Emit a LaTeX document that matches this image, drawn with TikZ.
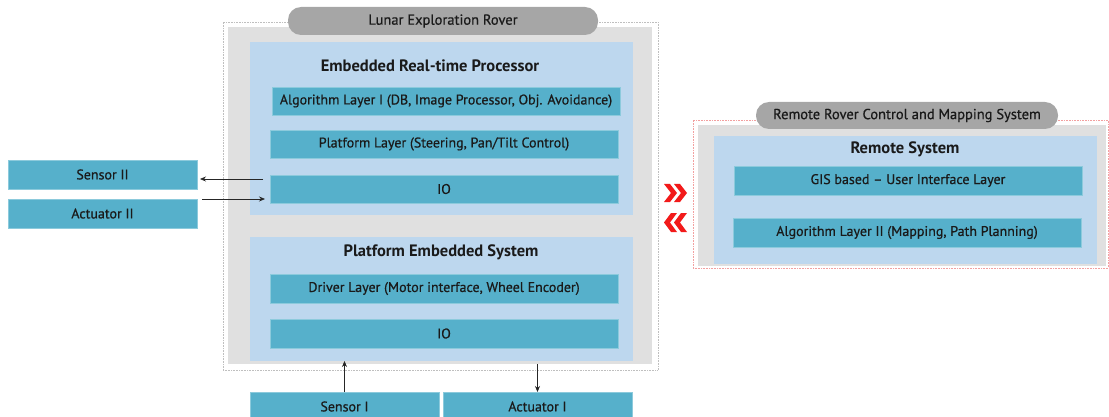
\documentclass[tikz,border=0pt]{standalone}
\usepackage{fontspec}
\setmainfont{PT Sans}
\newfontfamily\medfont{PT Sans}[FakeBold=0.6]
\usetikzlibrary{arrows.meta}
\definecolor{outergray}{HTML}{E0E0E0}
\definecolor{pillgray}{HTML}{A6A6A6}
\definecolor{lightblue}{HTML}{BDD7EE}
\definecolor{teal}{HTML}{56B0CB}
\definecolor{tealedge}{HTML}{8CCADC}
\definecolor{dotgray}{HTML}{BFBFBF}
\definecolor{dotred}{HTML}{F2A0A0}
\definecolor{chevred}{HTML}{F21A1A}
\definecolor{txt}{HTML}{1A1A1A}
\tikzset{
  box/.style={rectangle, inner sep=0pt, outer sep=0pt},
  layer/.style={box, fill=teal, draw=tealedge, line width=0.6pt, text=txt, font=\medfont\fontsize{14}{16}\selectfont},
  panel/.style={box, fill=lightblue},
  graybg/.style={box, fill=outergray},
  dotbox/.style={box, draw, densely dotted, line width=0.6pt},
  pill/.style={box, fill=pillgray, rounded corners=13pt, text=txt, font=\medfont\fontsize{14.5}{16}\selectfont},
  title/.style={text=txt, font=\bfseries\fontsize{16.5}{18}\selectfont},
  arr/.style={-{Stealth[length=6pt,width=5pt]}, line width=0.7pt, draw=black!85},
  chev/.style={fill=chevred}
}
\begin{document}
\begin{tikzpicture}[x=1pt,y=-1pt]
\useasboundingbox (0,0) rectangle (1109,417);
% Lunar Exploration Rover
\node[dotbox, draw=dotgray, minimum width=435pt, minimum height=348pt] (lunarframe) at (440.5,196) {};
\node[graybg, minimum width=424pt, minimum height=337pt] (lunarbg) at (440,195.5) {};
\node[pill, minimum width=310pt, minimum height=28pt] (lunarpill) at (443,21) {Lunar Exploration Rover};
% Embedded real-time processor
\node[panel, minimum width=383pt, minimum height=173pt] (erp) at (441.5,128.5) {};
\node[title] (erptitle) at (430,66) {Embedded Real-time Processor};
\node[layer, minimum width=348pt, minimum height=28pt] (alg1) at (446,101) {Algorithm Layer I (DB, Image Processor, Obj. Avoidance)};
\node[layer, minimum width=348pt, minimum height=28pt] (plat) at (444,144) {Platform Layer (Steering, Pan/Tilt Control)};
\node[layer, minimum width=348pt, minimum height=28pt] (io1) at (444,189) {IO};
% Platform embedded system
\node[panel, minimum width=383pt, minimum height=124pt] (pes) at (441.5,299) {};
\node[title] (pestitle) at (441,252) {Platform Embedded System};
\node[layer, minimum width=348pt, minimum height=29pt] (drv) at (444,288.5) {Driver Layer (Motor interface, Wheel Encoder)};
\node[layer, minimum width=348pt, minimum height=29pt] (io2) at (444,333.5) {IO};
% Sensors / actuators
\node[layer, minimum width=189pt, minimum height=29pt] (sens1) at (344.5,406.5) {Sensor I};
\node[layer, minimum width=189pt, minimum height=29pt] (act1) at (537.5,406.5) {Actuator I};
\node[layer, minimum width=189pt, minimum height=29pt] (sens2) at (102.5,174.5) {Sensor II};
\node[layer, minimum width=189pt, minimum height=29pt] (act2) at (102.5,213.5) {Actuator II};
% Remote
\node[dotbox, draw=dotred, minimum width=415pt, minimum height=148pt] (remframe) at (900.5,194) {};
\node[graybg, minimum width=408pt, minimum height=141pt] (rembg) at (902,195.5) {};
\node[pill, minimum width=302pt, minimum height=27pt] (rempill) at (907,115.5) {Remote Rover Control and Mapping System};
\node[panel, minimum width=383pt, minimum height=128pt] (rs) at (905.5,200) {};
\node[title] (rstitle) at (905,149) {Remote System};
\node[layer, minimum width=348pt, minimum height=29pt] (gis) at (908,180.5) {GIS based – User Interface Layer};
\node[layer, minimum width=348pt, minimum height=29pt] (alg2) at (907,232.5) {Algorithm Layer II (Mapping, Path Planning)};
% arrows
\draw[arr] ([shift={(-7,-10)}]io1.west) -- ([shift={(3,4.5)}]sens2.east);
\draw[arr] ([shift={(5,-14.5)}]act2.east) -- ([shift={(-5,10)}]io1.west);
\draw[arr] (sens1.north) -- (sens1.north |- pes.south);
\draw[arr] (act1.north |- lunarbg.south) -- (act1.north);
% chevrons
\foreach \x in {664,674}
  \fill[chev] (\x,184) -- ++(6,0) -- ++(7,9) -- ++(-7,9) -- ++(-6,0) -- ++(7,-9) -- cycle;
\foreach \x in {687,677}
  \fill[chev] (\x,213) -- ++(-6,0) -- ++(-7,9.5) -- ++(7,9.5) -- ++(6,0) -- ++(-7,-9.5) -- cycle;
\end{tikzpicture}
\end{document}
